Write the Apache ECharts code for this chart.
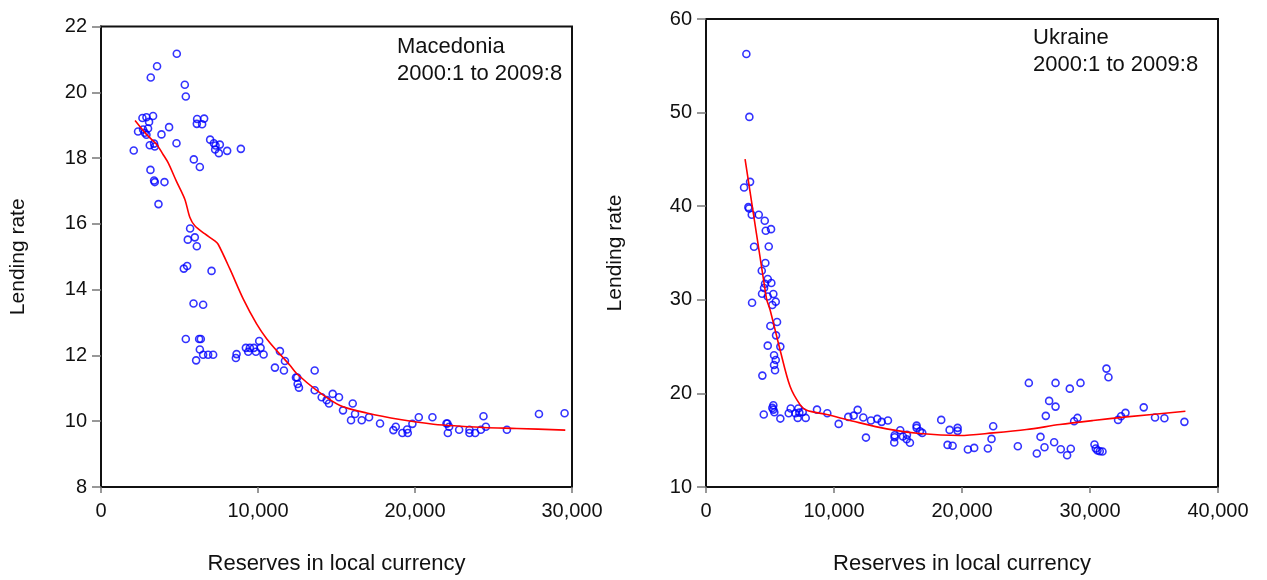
<!DOCTYPE html>
<html>
<head>
<meta charset="UTF-8">
<title>Lending rate vs reserves</title>
<script src="https://cdn.jsdelivr.net/npm/echarts@6/dist/echarts.min.js"></script>
<style>
  html, body { margin: 0; padding: 0; background: #fff; }
  #chart { width: 1267px; height: 580px; }
</style>
</head>
<body>
<div id="chart"></div>
<script>
// Macedonia: [reserves, lending rate]
var macedoniaPoints = [
  [4828,21.17],[3571,20.79],[3170,20.45],[5338,20.23],[5402,19.87],[2640,19.22],[2895,19.24],
  [3316,19.28],[3061,19.10],[2997,18.90],[2679,18.87],[2360,18.81],[2895,18.71],[2787,18.77],
  [4337,18.94],[3852,18.72],[6122,19.19],[6569,19.20],[6103,19.04],[6441,19.03],[3106,18.39],
  [3380,18.44],[3425,18.35],[4809,18.45],[2085,18.23],[6952,18.56],[7188,18.45],[7570,18.41],
  [7296,18.38],[7270,18.26],[7506,18.15],[8036,18.22],[8909,18.28],[5912,17.96],[6295,17.73],
  [3150,17.64],[3380,17.32],[3425,17.27],[4043,17.27],[3661,16.60],
  [5676,15.86],[5529,15.52],[5976,15.59],[6103,15.32],[5274,14.64],[5485,14.72],[7041,14.57],
  [5893,13.58],[6505,13.54],[5402,12.50],[6250,12.50],[6358,12.50],[6295,12.18],[6505,12.02],
  [6824,12.02],[7143,12.02],[6059,11.85],[8635,12.04],[8591,11.92],[9228,12.23],[9483,12.23],
  [9738,12.23],[9377,12.11],[9866,12.11],[10166,12.23],[10077,12.44],[10357,12.03],[11397,12.13],
  [11078,11.63],[11652,11.54],[11716,11.83],
  [13610,11.54],[12417,11.33],[12500,11.33],[12526,11.13],[12608,11.02],[13610,10.94],[14056,10.73],
  [14375,10.64],[14522,10.54],[14758,10.83],[15159,10.73],[15414,10.33],[16033,10.54],[16180,10.22],
  [15925,10.03],[16607,10.03],[17073,10.12],[17774,9.93],[18775,9.83],[18622,9.73],[19196,9.64],
  [19540,9.64],[19496,9.75],[19834,9.92],[20242,10.12],[21110,10.12],[22003,9.93],[22066,9.93],
  [22175,9.83],[22092,9.64],[22812,9.74],[23469,9.74],[23469,9.64],[23833,9.64],[24196,9.74],
  [24515,9.83],[24362,10.15],[25855,9.74],[27895,10.22],[29528,10.24]
];
var macedoniaFit = [
  [2169,19.14],[2895,18.72],[3533,18.42],[3954,18.11],[4273,17.86],[4800,17.30],[5338,16.75],
  [5657,16.20],[5976,15.94],[6600,15.70],[7251,15.48],[7462,15.38],[8208,14.63],[9057,13.72],
  [9911,12.96],[10549,12.51],[11186,12.15],[12034,11.70],[12462,11.45],[13737,10.94],[15223,10.48],
  [16926,10.25],[19050,10.05],[21174,9.91],[24362,9.81],[26488,9.78],[29572,9.73]
];

// Ukraine: [reserves, lending rate]
var ukrainePoints = [
  [3154,56.26],[3388,49.54],[3443,42.60],[2974,42.00],[3310,39.90],[3364,39.75],[3575,39.08],
  [4122,39.08],[4590,38.44],[5082,37.55],[4668,37.37],[3755,35.67],[4902,35.70],[4637,33.93],
  [4356,33.11],[4824,32.22],[5105,31.79],[4613,31.72],[4535,31.26],[4379,30.65],[5261,30.62],
  [4824,30.36],[3599,29.69],[5449,29.80],[5183,29.44],[5550,27.63],[5027,27.20],[5472,26.20],
  [4824,25.10],[5808,25.00],[5316,24.07],[5449,23.57],[5316,23.04],[5394,22.47],[4403,21.90],
  [5261,18.73],[5183,18.45],[5261,18.27],[5339,17.98],[4512,17.74],[5808,17.31],[6619,18.38],
  [6463,17.88],[6979,17.88],[7213,18.38],[7291,17.95],[7166,17.38],[7556,18.02],[7790,17.38],
  [8672,18.27],[9477,17.88],[10366,16.74],[11116,17.49],[11537,17.63],[11849,18.24],[12287,17.42],
  [12497,15.28],[12888,17.10],[13380,17.28],[13723,16.96],[14215,17.10],[15175,16.06],[14737,15.53],
  [14737,15.32],[15386,15.39],[15698,15.57],[15674,15.10],[15932,14.72],[14706,14.75],[16455,16.56],
  [16455,16.32],[16713,15.96],[16893,15.78],[18376,17.17],[19032,16.10],[19657,16.32],[19657,16.00],
  [18874,14.50],[19266,14.40],[20459,14.00],
  [20951,14.18],[22021,14.11],[22436,16.49],[22306,15.14],[24362,14.36],[25221,21.12],[25845,13.58],
  [26133,15.36],[26445,14.25],[26548,17.60],[26808,19.20],[27308,21.12],[27308,18.59],[27198,14.78],
  [27718,14.04],[28422,20.51],[28500,14.08],[28212,13.40],[28758,17.02],[29022,17.38],[29257,21.12],
  [30350,14.54],[30452,14.11],[30584,13.90],[30764,13.82],[30975,13.79],[31286,22.65],[31443,21.72],
  [32193,17.17],[32427,17.56],[32771,17.92],[34198,18.51],[35080,17.42],[35814,17.34],[37376,16.96]
];
var ukraineFit = [
  [3052,45.03],[4613,31.08],[4746,30.01],[5004,28.94],[5784,24.67],[6565,20.76],[7346,18.80],
  [7868,18.20],[9430,17.74],[11506,17.02],[14113,16.21],[16713,15.71],[19836,15.50],[22436,15.78],
  [25040,16.14],[27640,16.67],[30241,17.10],[32849,17.49],[37454,18.09]
];

var leftYTicks = { min: 8, max: 22, interval: 2 };
var leftXTicks = { min: 0, max: 30000, interval: 10000 };
var rightYTicks = { min: 10, max: 60, interval: 10 };
var rightXTicks = { min: 0, max: 40000, interval: 10000 };

var FONT = 'Liberation Sans, Arial, sans-serif';

function thousands(v) {
  return v.toLocaleString('en-US');
}

function xAxisCfg(idx, t) {
  return {
    type: 'value', gridIndex: idx, min: t.min, max: t.max, interval: t.interval,
    name: 'Reserves in local currency', nameLocation: 'middle', nameGap: 66,
    nameTextStyle: { fontFamily: FONT, fontSize: 22, color: '#111' },
    axisLine: { show: true, lineStyle: { color: '#111', width: 2 } },
    axisTick: { show: true, length: 6, lineStyle: { color: '#777', width: 1.5 } },
    axisLabel: { fontFamily: FONT, fontSize: 20, color: '#111', margin: 14, formatter: thousands },
    splitLine: { show: false }
  };
}

function yAxisCfg(idx, t, gap) {
  return {
    type: 'value', gridIndex: idx, min: t.min, max: t.max, interval: t.interval,
    name: 'Lending rate', nameLocation: 'middle', nameGap: gap, nameRotate: 90,
    nameTextStyle: { fontFamily: FONT, fontSize: 21, color: '#111' },
    axisLine: { show: true, lineStyle: { color: '#111', width: 2 } },
    axisTick: { show: true, length: 9, lineStyle: { color: '#777', width: 1.5 } },
    axisLabel: { fontFamily: FONT, fontSize: 20, color: '#111', margin: 14 },
    splitLine: { show: false }
  };
}

function scatter(idx, data) {
  return {
    type: 'scatter', xAxisIndex: idx, yAxisIndex: idx, data: data,
    symbol: 'circle', symbolSize: 7,
    itemStyle: { color: 'rgba(0,0,0,0)', borderColor: '#0000ff', borderWidth: 1.6 },
    z: 3
  };
}

function fit(idx, data) {
  return {
    type: 'line', xAxisIndex: idx, yAxisIndex: idx, data: data,
    showSymbol: false, smooth: 0.3,
    lineStyle: { color: '#ff0000', width: 1.6 },
    z: 4
  };
}

var chart = echarts.init(document.getElementById('chart'));
chart.setOption({
  backgroundColor: '#fff',
  animation: false,
  grid: [
    { left: 101, right: 695, top: 26.5, bottom: 92, show: true, borderColor: '#111', borderWidth: 2 },
    { left: 706, right: 49, top: 19, bottom: 92, show: true, borderColor: '#111', borderWidth: 2 }
  ],
  xAxis: [xAxisCfg(0, leftXTicks), xAxisCfg(1, rightXTicks)],
  yAxis: [yAxisCfg(0, leftYTicks, 72), yAxisCfg(1, rightYTicks, 80)],
  series: [
    scatter(0, macedoniaPoints), fit(0, macedoniaFit),
    scatter(1, ukrainePoints), fit(1, ukraineFit)
  ],
  graphic: [
    { type: 'text', left: 397, top: 33, style: { text: 'Macedonia\n2000:1 to 2009:8', fontFamily: FONT, fontSize: 22, lineHeight: 27, fill: '#111' } },
    { type: 'text', left: 1033, top: 24, style: { text: 'Ukraine\n2000:1 to 2009:8', fontFamily: FONT, fontSize: 22, lineHeight: 27, fill: '#111' } }
  ]
});
</script>
</body>
</html>
